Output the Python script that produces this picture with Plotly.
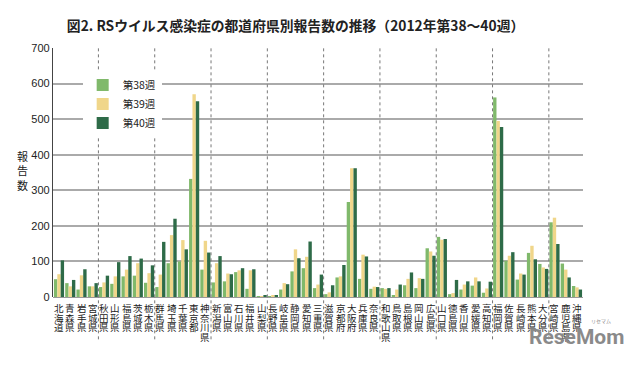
import plotly.graph_objects as go

prefectures = ["北海道", "青森県", "岩手県", "宮城県", "秋田県", "山形県", "福島県", "茨城県", "栃木県",
               "群馬県", "埼玉県", "千葉県", "東京都", "神奈川県", "新潟県", "富山県", "石川県", "福井県",
               "山梨県", "長野県", "岐阜県", "静岡県", "愛知県", "三重県", "滋賀県", "京都府", "大阪府",
               "兵庫県", "奈良県", "和歌山県", "鳥取県", "島根県", "岡山県", "広島県", "山口県", "徳島県",
               "香川県", "愛媛県", "高知県", "福岡県", "佐賀県", "長崎県", "熊本県", "大分県", "宮崎県",
               "鹿児島県", "沖縄県"]

week38 = [50, 39, 21, 30, 28, 37, 58, 60, 40,
          28, 95, 100, 332, 77, 41, 44, 70, 23,
          2, 2, 21, 72, 81, 25, 8, 55, 267,
          51, 23, 25, 5, 33, 25, 137, 169, 8,
          21, 32, 12, 561, 102, 49, 124, 93, 210,
          94, 31]
week39 = [64, 30, 61, 30, 41, 58, 77, 95, 67,
          63, 174, 160, 570, 158, 95, 66, 75, 75,
          2, 5, 39, 134, 113, 35, 13, 58, 362,
          119, 29, 23, 21, 51, 53, 128, 161, 11,
          35, 55, 24, 495, 116, 66, 144, 83, 223,
          77, 27]
week40 = [103, 48, 78, 39, 60, 98, 115, 108, 89,
          155, 220, 134, 550, 125, 115, 64, 81, 78,
          5, 5, 36, 109, 156, 63, 33, 90, 362,
          114, 28, 25, 35, 69, 51, 116, 163, 48,
          44, 44, 43, 478, 126, 63, 106, 79, 149,
          55, 21]

series_names = ["第38週", "第39週", "第40週"]
y_ticks = [0, 100, 200, 300, 400, 500, 600, 700]
separators = [3.5, 8.5, 13.5, 18.5, 23.5, 28.5, 33.5, 38.5, 43.5]

colors = ["#80b96b", "#f0d68a", "#2e6b48"]

fig = go.Figure()
for name, vals, col in zip(series_names, [week38, week39, week40], colors):
    fig.add_trace(go.Bar(x=prefectures, y=vals, name=name, marker_color=col,
                         marker_line_width=0))

# vertical category labels, one character per line
for p in prefectures:
    for j, ch in enumerate(p):
        fig.add_annotation(text=ch, xref="x", yref="paper", x=p, y=0,
                           yanchor="top", xanchor="center", yshift=-3 - j * 9.6,
                           showarrow=False, borderpad=0,
                           font=dict(family="Noto Sans CJK JP", size=9.5, color="#222"))

for s in separators:
    fig.add_shape(type="line", xref="x", yref="paper", x0=s, x1=s, y0=-0.17, y1=1,
                  line=dict(color="#777", width=1, dash="dot"), layer="above")

fig.add_annotation(text="報<br>告<br>数", xref="paper", yref="paper", x=-0.058, y=0.51,
                   showarrow=False, font=dict(family="Noto Sans CJK JP", size=11, color="#222"),
                   xanchor="center", yanchor="middle")

fig.add_annotation(text="<b>ReseMom</b>", xref="paper", yref="paper", x=1.079, y=-0.162,
                   showarrow=False, font=dict(family="Roboto", size=21, color="#8a8a8a"),
                   xanchor="right", yanchor="middle", borderpad=0)
fig.add_annotation(text="リセマム", xref="paper", yref="paper", x=1.055, y=-0.098,
                   showarrow=False, font=dict(family="Noto Sans CJK JP", size=5, color="#8a8a8a"),
                   xanchor="right", yanchor="middle", borderpad=0)

fig.update_layout(
    width=632, height=357,
    margin=dict(l=45, r=57, t=40, b=67.5, autoexpand=False),
    paper_bgcolor="white", plot_bgcolor="white",
    barmode="group", bargap=0.1, bargroupgap=0,
    title=dict(text="<b>図2. RSウイルス感染症の都道府県別報告数の推移（2012年第38〜40週）</b>",
               x=0.455, xanchor="center", y=0.95, yanchor="middle",
               font=dict(family="Noto Sans CJK JP", size=13.8, color="#222")),
    font=dict(family="Noto Sans CJK JP", color="#222"),
    legend=dict(x=0.056, y=0.91, xanchor="left", yanchor="top", bgcolor="white",
                font=dict(size=10.5, color="#222"), tracegroupgap=0, itemwidth=30),
    xaxis=dict(showticklabels=False, showgrid=False, ticks="", showline=False,
               automargin=False),
    yaxis=dict(range=[0, 700], tickvals=y_ticks, showgrid=True, gridcolor="#aaaaaa",
               gridwidth=1.5, zeroline=True, zerolinecolor="#999", zerolinewidth=1,
               showline=True, linecolor="#444", linewidth=1.2, ticks="", automargin=False,
               tickfont=dict(family="Liberation Sans", size=11, color="#222")),
)

fig.write_html("out.html")
